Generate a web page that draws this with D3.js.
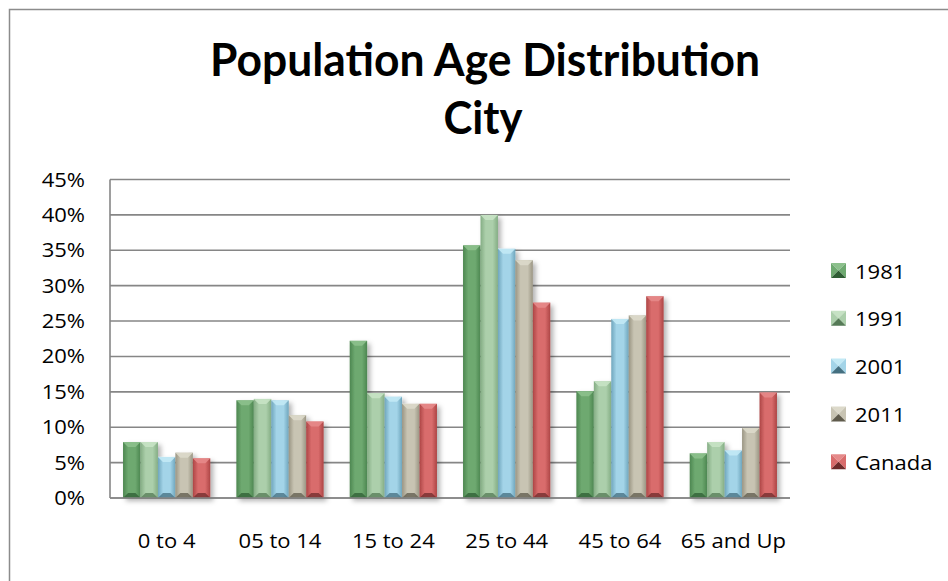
<!DOCTYPE html>
<html lang="en">
<head>
    <meta charset="UTF-8">
    <title>Population Age Distribution</title>
    <script src="https://d3js.org/d3.v7.min.js"></script>
    <style>
        body { margin: 0; background: #fff; }
        text { font-family: "Open Sans", Lato, sans-serif; fill: #000; }
        .title { font-family: Lato, "Open Sans", sans-serif; }
        .grid line { stroke: #868686; stroke-width: 1.6px; }
    </style>
</head>
<body>
    <svg width="948" height="581"></svg>
    <script>
        // chart data
        const ageGroups = ['0 to 4', '05 to 14', '15 to 24', '25 to 44', '45 to 64', '65 and Up'];
        const seriesNames = ['1981', '1991', '2001', '2011', 'Canada'];
        const v1981 = [7.9, 13.8, 22.2, 35.7, 15.1, 6.3];
        const v1991 = [7.9, 14.0, 14.8, 40.0, 16.5, 7.9];
        const v2001 = [5.8, 13.8, 14.3, 35.2, 25.3, 6.7];
        const v2011 = [6.4, 11.7, 13.3, 33.6, 25.8, 9.9];
        const vCanada = [5.6, 10.8, 13.3, 27.6, 28.5, 14.9];
        const yTicks = [0, 5, 10, 15, 20, 25, 30, 35, 40, 45];

        const seriesValues = [v1981, v1991, v2001, v2011, vCanada];
        // body, edge, top bevel, bottom bevel
        const palette = [
            ['#6ea970', '#4c8650', '#8cc08c', '#2f5e34'],
            ['#accfab', '#84ad84', '#c6e2c4', '#557a56'],
            ['#a3d4e8', '#6fa6bd', '#c2e9f5', '#446f80'],
            ['#c8c4b3', '#9a9583', '#dcd9ca', '#5f5b4c'],
            ['#d96c6c', '#ad4545', '#e58a8a', '#6e2b2b']
        ];

        const svg = d3.select('svg');
        const margin = { left: 110, right: 158, top: 179.5, bottom: 83 };
        const width = 948, height = 581;

        const x0 = d3.scaleBand().domain(ageGroups)
            .range([margin.left, width - margin.right]).paddingInner(0.23).paddingOuter(0.115);
        const x1 = d3.scaleBand().domain(seriesNames).range([0, x0.bandwidth()]);
        const y = d3.scaleLinear().domain([0, 45]).range([height - margin.bottom, margin.top]);

        const fs = 20;
        const sx = 1.1; // horizontal stretch of the reference's text

        const defs = svg.append('defs');
        palette.forEach((c, i) => {
            const g = defs.append('linearGradient').attr('id', 'grad' + i)
                .attr('x1', '0%').attr('x2', '100%').attr('y1', '0%').attr('y2', '0%');
            g.append('stop').attr('offset', '0%').attr('stop-color', c[1]);
            g.append('stop').attr('offset', '30%').attr('stop-color', c[0]);
            g.append('stop').attr('offset', '70%').attr('stop-color', c[0]);
            g.append('stop').attr('offset', '100%').attr('stop-color', c[1]);
        });
        const shadow = defs.append('filter').attr('id', 'shadow')
            .attr('x', '-20%').attr('y', '-20%').attr('width', '140%').attr('height', '140%');
        shadow.append('feDropShadow').attr('dx', 3).attr('dy', 3)
            .attr('stdDeviation', 2.5).attr('flood-color', '#000').attr('flood-opacity', 0.3);

        // outer border
        svg.append('rect').attr('x', 9.5).attr('y', 9.5).attr('width', 1000).attr('height', 1000)
            .attr('fill', 'none').attr('stroke', '#8c8c8c').attr('stroke-width', 1.5);

        // title
        svg.append('text').attr('class', 'title').attr('x', 485).attr('y', 76).attr('text-anchor', 'middle')
            .attr('font-size', 46).attr('font-weight', 'bold')
            .attr('textLength', 550).attr('lengthAdjust', 'spacingAndGlyphs')
            .text('Population Age Distribution');
        svg.append('text').attr('class', 'title').attr('x', 483).attr('y', 134).attr('text-anchor', 'middle')
            .attr('font-size', 46).attr('font-weight', 'bold')
            .attr('textLength', 79).attr('lengthAdjust', 'spacingAndGlyphs')
            .text('City');

        // gridlines
        svg.append('g').attr('class', 'grid').selectAll('line').data(yTicks).enter().append('line')
            .attr('x1', margin.left).attr('x2', width - margin.right)
            .attr('y1', d => y(d)).attr('y2', d => y(d));
        svg.append('line').attr('x1', margin.left).attr('x2', margin.left)
            .attr('y1', y(45)).attr('y2', y(0)).attr('stroke', '#868686').attr('stroke-width', 1.6);

        function stretch(sel) {
            sel.each(function () {
                const w = this.getComputedTextLength();
                d3.select(this).attr('textLength', w * sx).attr('lengthAdjust', 'spacingAndGlyphs');
            });
        }

        // y tick labels
        svg.append('g').selectAll('text').data(yTicks).enter().append('text')
            .attr('x', 85).attr('y', d => y(d) + 7).attr('text-anchor', 'end')
            .attr('font-size', fs).text(d => d + '%').call(stretch);

        // x labels
        svg.append('g').selectAll('text').data(ageGroups).enter().append('text')
            .attr('x', d => x0(d) + x0.bandwidth() / 2).attr('y', 548).attr('text-anchor', 'middle')
            .attr('font-size', fs).text(d => d).call(stretch);

        // bars
        const bev = 5;
        const groups = svg.append('g').selectAll('g').data(ageGroups).enter().append('g')
            .attr('transform', d => `translate(${x0(d)},0)`).attr('filter', 'url(#shadow)');
        groups.each(function (cat, ci) {
            const g = d3.select(this);
            seriesNames.forEach((s, si) => {
                const bx = x1(s), bw = x1.bandwidth();
                const top = y(seriesValues[si][ci]), bot = y(0);
                const c = palette[si];
                g.append('rect').attr('x', bx).attr('y', top).attr('width', bw).attr('height', bot - top)
                    .attr('fill', `url(#grad${si})`);
                g.append('polygon').attr('fill', c[2]).attr('opacity', 0.9)
                    .attr('points', [[bx, top], [bx + bw, top], [bx + bw - bev, top + bev], [bx + bev, top + bev]].join(' '));
                g.append('polygon').attr('fill', c[3]).attr('opacity', 0.75)
                    .attr('points', [[bx, bot], [bx + bw, bot], [bx + bw - bev, bot - bev], [bx + bev, bot - bev]].join(' '));
            });
        });

        // bottom axis line drawn over bars
        svg.append('line').attr('x1', margin.left).attr('x2', width - margin.right)
            .attr('y1', y(0)).attr('y2', y(0)).attr('stroke', '#868686').attr('stroke-width', 1.6);

        // legend
        const legend = svg.append('g').selectAll('g').data(seriesNames).enter().append('g')
            .attr('transform', (d, i) => `translate(831,${263 + i * 47.8})`);
        legend.each(function (s, i) {
            const g = d3.select(this), c = palette[i], m = 15;
            g.append('polygon').attr('fill', c[2]).attr('points', [[0, 0], [m, 0], [m / 2, m / 2]].join(' '));
            g.append('polygon').attr('fill', c[0]).attr('points', [[0, 0], [m / 2, m / 2], [0, m]].join(' '));
            g.append('polygon').attr('fill', c[0]).attr('points', [[m, 0], [m / 2, m / 2], [m, m]].join(' '));
            g.append('polygon').attr('fill', c[3]).attr('points', [[0, m], [m / 2, m / 2], [m, m]].join(' '));
            g.append('text').attr('x', 24).attr('y', 15.5).attr('font-size', fs).text(s).call(stretch);
        });
    </script>
</body>
</html>
